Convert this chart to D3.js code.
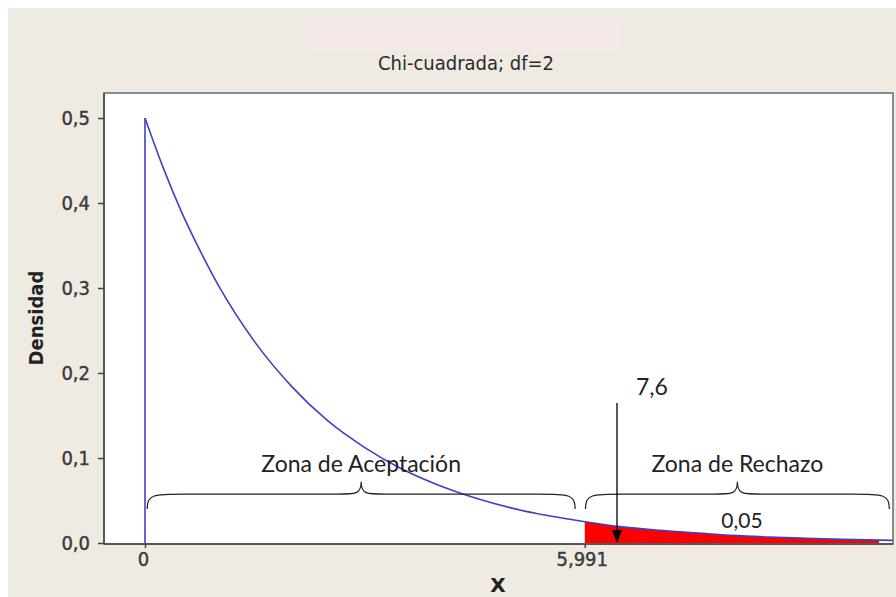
<!DOCTYPE html>
<html><head><meta charset="utf-8">
<script src="https://cdn.jsdelivr.net/npm/d3@7"></script>
<style>body{margin:0;background:#fff}svg{display:block}</style>
</head><body>
<script>
// ---- data ----
const xValues  = [0, 0.25, 0.5, 0.75, 1, 1.5, 2, 2.5, 3, 3.5, 4, 4.5, 5, 5.5, 5.991, 6.5, 7, 7.5, 8, 8.5, 9, 9.5, 10, 10.19];
const density  = [0.5, 0.441, 0.389, 0.344, 0.303, 0.236, 0.184, 0.143, 0.112, 0.087, 0.068, 0.053, 0.041, 0.032, 0.025, 0.019, 0.015, 0.012, 0.009, 0.007, 0.0055, 0.0043, 0.0034, 0.0031];
const yTicks = [0, 0.1, 0.2, 0.3, 0.4, 0.5];
const yTickLabels = ["0,0", "0,1", "0,2", "0,3", "0,4", "0,5"];
const xTicks = [0, 5.991];
const xTickLabels = ["0", "5,991"];
const criticalValue = 5.991;
const rejectionEnd = 10.0;
const statPosition = 6.43;
const statLabel = "7,6";
const alphaLabel = "0,05";
const titleText = "Chi-cuadrada; df=2";
const zones = [
  {label: "Zona de Aceptación", from: 0.03, to: 5.86},
  {label: "Zona de Rechazo", from: 6.0, to: 10.14}
];

const W = 896, H = 597;
const svg = d3.select("body").append("svg").attr("width", W).attr("height", H);

// backgrounds
svg.append("rect").attr("x", 0).attr("y", 0).attr("width", W).attr("height", H).attr("fill", "#ffffff");
svg.append("rect").attr("x", 8).attr("y", 8).attr("width", W - 8).attr("height", H - 8).attr("fill", "#efebe2");
svg.append("rect").attr("x", 310).attr("y", 22).attr("width", 310).attr("height", 29).attr("fill", "#f4e9e8");

const frame = {left: 104, right: 893, top: 93, bottom: 544};
const x = d3.scaleLinear().domain([0, 10.19]).range([145, 893]);
const y = d3.scaleLinear().domain([0, 0.5]).range([543, 118]);

svg.append("rect").attr("x", frame.left).attr("y", frame.top)
  .attr("width", frame.right - frame.left).attr("height", frame.bottom - frame.top)
  .attr("fill", "#ffffff").attr("stroke", "#6a6a6a").attr("stroke-width", 1.5);

// title
svg.append("text").attr("x", 466).attr("y", 70).attr("text-anchor", "middle")
  .attr("font-family", "DejaVu Sans").attr("font-stretch", "condensed").attr("font-size", 20)
  .attr("fill", "#2a2a2a").text(titleText);

// axes
const yAxis = d3.axisLeft(y).tickValues(yTicks).tickFormat((d, i) => yTickLabels[i]).tickSize(6).tickPadding(8);
const gy = svg.append("g").attr("transform", `translate(${frame.left},0)`).call(yAxis);
const xAxis = d3.axisBottom(x).tickValues(xTicks).tickFormat((d, i) => xTickLabels[i]).tickSize(4).tickPadding(4);
const gx = svg.append("g").attr("transform", `translate(0,${frame.bottom})`).call(xAxis);
[gx, gy].forEach(g => {
  g.select(".domain").attr("stroke", "#444").attr("stroke-width", 1.5);
  g.selectAll(".tick line").attr("stroke", "#444").attr("stroke-width", 1.5);
  g.selectAll(".tick text").attr("font-family", "DejaVu Sans").attr("font-stretch", "condensed")
    .attr("font-size", 20).attr("fill", "#3a3a3a").attr("stroke", "#3a3a3a").attr("stroke-width", 0.4);
});
gx.selectAll(".tick text").attr("dx", (d, i) => i === 0 ? -2 : -3);
gx.select(".domain").attr("d", `M${frame.left},0H${frame.right}`);
gy.select(".domain").attr("d", `M0,${frame.bottom}V${frame.top}`);

svg.append("text").attr("x", 498).attr("y", 592).attr("text-anchor", "middle")
  .attr("font-family", "DejaVu Sans").attr("font-weight", "bold").attr("font-size", 20)
  .attr("fill", "#222").text("X");
svg.append("text").attr("transform", "translate(43,318) rotate(-90)").attr("text-anchor", "middle")
  .attr("font-family", "DejaVu Sans").attr("font-stretch", "condensed").attr("font-weight", "bold").attr("font-size", 20)
  .attr("fill", "#222").text("Densidad");

const pts = xValues.map((v, i) => ({x: v, y: density[i]}));

// red rejection area
const redPts = pts.filter(p => p.x >= criticalValue && p.x <= rejectionEnd);
const area = d3.area().x(d => x(d.x)).y0(y(0)).y1(d => y(d.y)).curve(d3.curveMonotoneX);
svg.append("path").datum(redPts).attr("d", area).attr("fill", "#ff0000");

// density curve
const line = d3.line().x(d => x(d.x)).y(d => y(d.y)).curve(d3.curveMonotoneX);
svg.append("line").attr("x1", x(0)).attr("x2", x(0)).attr("y1", y(0)).attr("y2", y(density[0]))
  .attr("stroke", "#4040c4").attr("stroke-width", 1.6);
svg.append("path").datum(pts).attr("d", line).attr("fill", "none")
  .attr("stroke", "#4040c4").attr("stroke-width", 1.6);

// braces
function brace(x0, x1, yTip, yLine, yCusp) {
  const m = (x0 + x1) / 2, r = 38, c = 30;
  return `M${x0},${yTip} C${x0},${yLine} ${x0 + 6},${yLine} ${x0 + r},${yLine}` +
         ` L${m - c},${yLine} C${m - 6},${yLine} ${m},${yLine + 1} ${m},${yCusp}` +
         ` C${m},${yLine + 1} ${m + 6},${yLine} ${m + c},${yLine}` +
         ` L${x1 - r},${yLine} C${x1 - 6},${yLine} ${x1},${yLine} ${x1},${yTip}`;
}
zones.forEach(z => {
  const x0 = x(z.from), x1 = x(z.to);
  svg.append("path").attr("d", brace(x0, x1, y(0.04), y(0.0575), y(0.072)))
    .attr("fill", "none").attr("stroke", "#222").attr("stroke-width", 1.2);
  svg.append("text").attr("x", (x0 + x1) / 2).attr("y", 472).attr("text-anchor", "middle")
    .attr("font-family", "Lato").attr("font-size", 23).attr("fill", "#222").text(z.label);
});

svg.append("text").attr("x", 742).attr("y", 528).attr("text-anchor", "middle")
  .attr("font-family", "Lato").attr("font-size", 21).attr("fill", "#222").text(alphaLabel);

// arrow for the statistic
svg.append("line").attr("x1", x(statPosition)).attr("x2", x(statPosition)).attr("y1", 403).attr("y2", y(0) - 10)
  .attr("stroke", "#000").attr("stroke-width", 1.3);
svg.append("path").attr("d", `M${x(statPosition) - 5},${y(0) - 13} L${x(statPosition) + 5},${y(0) - 13} L${x(statPosition)},${y(0)} Z`)
  .attr("fill", "#000");
svg.append("text").attr("x", x(statPosition) + 35).attr("y", 395).attr("text-anchor", "middle")
  .attr("font-family", "Lato").attr("font-size", 23).attr("fill", "#222").text(statLabel);
</script>
</body></html>
